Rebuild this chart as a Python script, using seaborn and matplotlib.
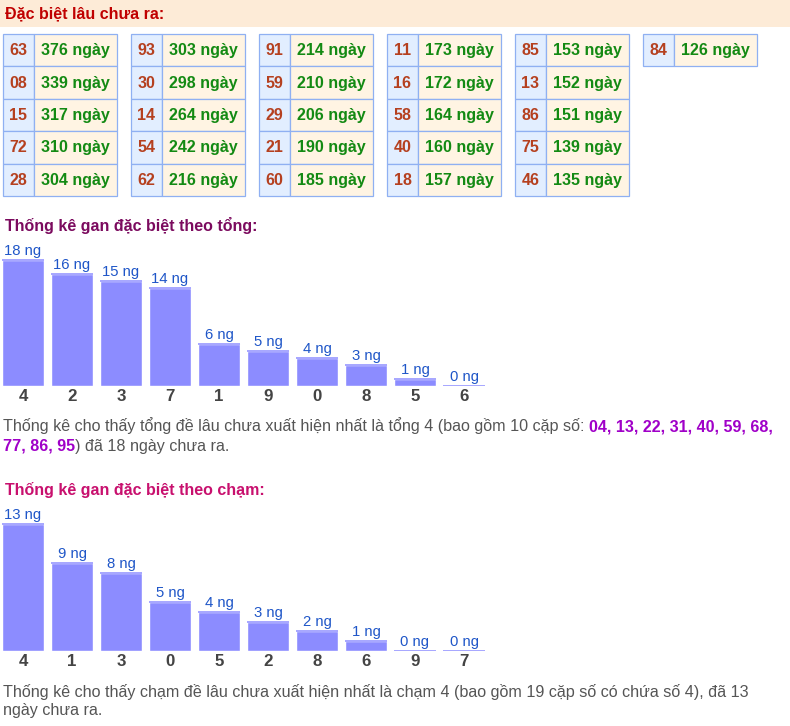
import matplotlib
matplotlib.use("Agg")
import matplotlib.pyplot as plt
import seaborn as sns
from matplotlib.patches import Rectangle

# bảng "Đặc biệt lâu chưa ra" (5 dòng mỗi cột)
gan_pairs = ["63", "08", "15", "72", "28",
             "93", "30", "14", "54", "62",
             "91", "59", "29", "21", "60",
             "11", "16", "58", "40", "18",
             "85", "13", "86", "75", "46",
             "84"]
gan_days = [376, 339, 317, 310, 304,
            303, 298, 264, 242, 216,
            214, 210, 206, 190, 185,
            173, 172, 164, 160, 157,
            153, 152, 151, 139, 135,
            126]

# gan theo tổng
tong_labels = ["4", "2", "3", "7", "1", "9", "0", "8", "5", "6"]
tong_days = [18, 16, 15, 14, 6, 5, 4, 3, 1, 0]
tong4_pairs = ["04", "13", "22", "31", "40", "59", "68", "77", "86", "95"]

# gan theo chạm
cham_labels = ["4", "1", "3", "0", "5", "2", "8", "6", "9", "7"]
cham_days = [13, 9, 8, 5, 4, 3, 2, 1, 0, 0]

sns.set_theme(style="white")
plt.rcParams['font.family'] = ['Liberation Sans', 'DejaVu Sans']

W, H = 790, 726
fig = plt.figure(figsize=(W / 100, H / 100), dpi=100)
ax = fig.add_axes([0, 0, 1, 1])
ax.set_xlim(0, W)
ax.set_ylim(H, 0)
ax.axis('off')

# header
ax.add_patch(Rectangle((0, 0), W, 27, facecolor='#fdebd7', edgecolor='none'))
ax.text(5, 14, "Đặc biệt lâu chưa ra:", color='#c00000', fontsize=11.5,
        fontweight='bold', va='center', ha='left')

# table
row_h = 32.4
for k, (pair, days) in enumerate(zip(gan_pairs, gan_days)):
    col, row = k // 5, k % 5
    x0 = 3 + 128 * col
    y0 = 34 + row_h * row
    ax.add_patch(Rectangle((x0, y0), 31, row_h, facecolor='#e2eeff',
                           edgecolor='#8fb0f2', lw=0.9))
    ax.add_patch(Rectangle((x0 + 31, y0), 83, row_h, facecolor='#fff4e3',
                           edgecolor='#8fb0f2', lw=0.9))
    ax.text(x0 + 15.5, y0 + row_h / 2 + 0.5, pair, color='#b5401f', fontsize=11.5,
            fontweight='bold', ha='center', va='center')
    ax.text(x0 + 72.5, y0 + row_h / 2 + 0.5, f"{days} ngày", color='#138a13',
            fontsize=11.5, fontweight='bold', ha='center', va='center')

ax.text(5, 226, "Thống kê gan đặc biệt theo tổng:", color='#7b0a5e', fontsize=11.5,
        fontweight='bold', va='center', ha='left')
ax.text(5, 490, "Thống kê gan đặc biệt theo chạm:", color='#c8106e', fontsize=11.5,
        fontweight='bold', va='center', ha='left')


def gan_bars(labels, days, baseline, px_per_unit, top):
    h = baseline - top
    bax = fig.add_axes([-1.5 / W, 1 - baseline / H, 490 / W, h / H])
    bax.patch.set_alpha(0)
    sns.barplot(x=labels, y=days, order=labels, color='#8c8cff', saturation=1,
                width=0.857, ax=bax)
    bax.set_xlim(-0.5, len(labels) - 0.5)
    bax.set_ylim(0, h / px_per_unit)
    for p in bax.patches:
        bax.hlines(p.get_height(), p.get_x(), p.get_x() + p.get_width(),
                   color='#a6a6ff', lw=1.4)
    bax.bar_label(bax.containers[0], labels=[f"{d} ng" for d in days],
                  padding=1.5, color='#1f56c8', fontsize=10.7)
    bax.set_yticks([])
    bax.tick_params(axis='x', length=0, pad=2.5)
    for t in bax.get_xticklabels():
        t.set_fontweight('bold')
        t.set_fontsize(12.2)
        t.set_color('#444444')
    sns.despine(ax=bax, left=True, bottom=True)
    return bax


gan_bars(tong_labels, tong_days, 386, 7.0, 236)
gan_bars(cham_labels, cham_days, 651, 9.77, 500)

gray = '#555555'
purple = '#a000c8'
fs = 11.6

# đoạn văn tổng
t1 = ax.text(3, 426, "Thống kê cho thấy tổng đề lâu chưa xuất hiện nhất là tổng 4 (bao gồm 10 cặp số: ",
             color=gray, fontsize=fs, va='center', ha='left')
ax.annotate(", ".join(tong4_pairs[:7]) + ",", xy=(1, 0), xycoords=t1, va='bottom',
            ha='left', color=purple, fontsize=fs, fontweight='bold')
t2 = ax.text(3, 446, ", ".join(tong4_pairs[7:]), color=purple, fontsize=fs,
             fontweight='bold', va='center', ha='left')
ax.annotate(f") đã {tong_days[0]} ngày chưa ra.", xy=(1, 0), xycoords=t2, va='bottom',
            ha='left', color=gray, fontsize=fs)

# đoạn văn chạm
ax.text(3, 692, f"Thống kê cho thấy chạm đề lâu chưa xuất hiện nhất là chạm 4 (bao gồm 19 cặp số có chứa số 4), đã {cham_days[0]}",
        color=gray, fontsize=fs, va='center', ha='left')
ax.text(3, 711, "ngày chưa ra.", color=gray, fontsize=fs, va='center', ha='left')

fig.savefig("out.png", dpi=100)
